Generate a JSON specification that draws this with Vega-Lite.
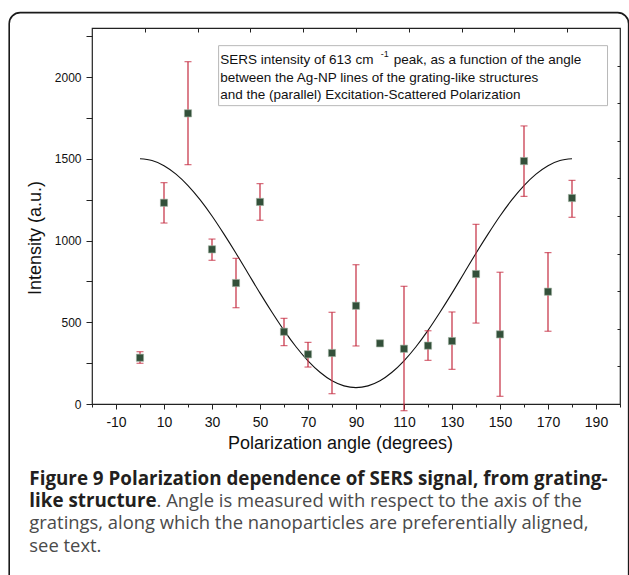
{
  "$schema": "https://vega.github.io/schema/vega-lite/v6.json",
  "width": 528,
  "height": 376,
  "autosize": "none",
  "padding": {"left": 92, "top": 28, "right": 9, "bottom": 171},
  "background": "white",
  "datasets": {
    "pts": [
      {"angle": 0, "intensity": 283, "lo": 249, "hi": 320},
      {"angle": 10, "intensity": 1231, "lo": 1107, "hi": 1354},
      {"angle": 20, "intensity": 1778, "lo": 1464, "hi": 2094},
      {"angle": 30, "intensity": 946, "lo": 879, "hi": 1009},
      {"angle": 40, "intensity": 740, "lo": 589, "hi": 891},
      {"angle": 50, "intensity": 1236, "lo": 1124, "hi": 1348},
      {"angle": 60, "intensity": 442, "lo": 357, "hi": 524},
      {"angle": 70, "intensity": 304, "lo": 226, "hi": 377},
      {"angle": 80, "intensity": 312, "lo": 63, "hi": 561},
      {"angle": 90, "intensity": 601, "lo": 355, "hi": 852},
      {"angle": 100, "intensity": 371, "lo": 358, "hi": 386},
      {"angle": 110, "intensity": 338, "lo": -41, "hi": 720},
      {"angle": 120, "intensity": 357, "lo": 267, "hi": 448},
      {"angle": 130, "intensity": 385, "lo": 212, "hi": 563},
      {"angle": 140, "intensity": 795, "lo": 495, "hi": 1099},
      {"angle": 150, "intensity": 426, "lo": 47, "hi": 806},
      {"angle": 160, "intensity": 1486, "lo": 1270, "hi": 1701},
      {"angle": 170, "intensity": 687, "lo": 445, "hi": 926},
      {"angle": 180, "intensity": 1260, "lo": 1142, "hi": 1368}
    ],
    "fit": [
      {"angle": 0, "fit": 1500}, {"angle": 5, "fit": 1489}, {"angle": 10, "fit": 1458},
      {"angle": 15, "fit": 1406}, {"angle": 20, "fit": 1336}, {"angle": 25, "fit": 1250},
      {"angle": 30, "fit": 1150}, {"angle": 35, "fit": 1039}, {"angle": 40, "fit": 922},
      {"angle": 45, "fit": 800}, {"angle": 50, "fit": 678}, {"angle": 55, "fit": 561},
      {"angle": 60, "fit": 450}, {"angle": 65, "fit": 350}, {"angle": 70, "fit": 264},
      {"angle": 75, "fit": 194}, {"angle": 80, "fit": 142}, {"angle": 85, "fit": 111},
      {"angle": 90, "fit": 100}, {"angle": 95, "fit": 111}, {"angle": 100, "fit": 142},
      {"angle": 105, "fit": 194}, {"angle": 110, "fit": 264}, {"angle": 115, "fit": 350},
      {"angle": 120, "fit": 450}, {"angle": 125, "fit": 561}, {"angle": 130, "fit": 678},
      {"angle": 135, "fit": 800}, {"angle": 140, "fit": 922}, {"angle": 145, "fit": 1039},
      {"angle": 150, "fit": 1150}, {"angle": 155, "fit": 1250}, {"angle": 160, "fit": 1336},
      {"angle": 165, "fit": 1406}, {"angle": 170, "fit": 1458}, {"angle": 175, "fit": 1489},
      {"angle": 180, "fit": 1500}
    ],
    "one": [{}]
  },
  "resolve": {"axis": {"x": "independent", "y": "independent"}},
  "layer": [
    {
      "data": {"name": "one"},
      "mark": {"type": "rect", "fill": "white", "fillOpacity": 0, "stroke": "#1a1a1a", "strokeWidth": 1.6, "cornerRadius": 11},
      "encoding": {
        "x": {"datum": -54.5, "type": "quantitative", "axis": null},
        "x2": {"datum": 203.6},
        "y": {"datum": 2394, "type": "quantitative", "axis": null},
        "y2": {"datum": -1200}
      }
    },
    {
      "data": {"name": "fit"},
      "mark": {"type": "line", "color": "#111", "strokeWidth": 1.1, "interpolate": "monotone"},
      "encoding": {
        "x": {"field": "angle", "type": "quantitative", "scale": {"domain": [-20, 200], "nice": false, "zero": false},
          "axis": {"orient": "top", "values": [2, 24, 46, 68, 90, 112, 134, 156, 178], "labels": false, "tickSize": 4, "offset": -4, "domain": false, "title": null, "grid": false}},
        "y": {"field": "fit", "type": "quantitative", "scale": {"domain": [0, 2300], "nice": false, "zero": false},
          "axis": {"orient": "right", "values": [230, 460, 690, 920, 1150, 1380, 1610, 1840, 2070], "labels": false, "tickSize": 3, "offset": -3, "domain": false, "title": null, "grid": false}}
      }
    },
    {
      "data": {"name": "pts"},
      "mark": {"type": "rule", "color": "#c42a3f", "strokeWidth": 1.2},
      "encoding": {
        "x": {"field": "angle", "type": "quantitative", "axis": null},
        "y": {"field": "lo", "type": "quantitative", "axis": null},
        "y2": {"field": "hi"}
      }
    },
    {
      "data": {"name": "pts"},
      "mark": {"type": "tick", "orient": "horizontal", "color": "#c42a3f", "size": 7, "thickness": 1.2},
      "encoding": {
        "x": {"field": "angle", "type": "quantitative", "axis": null},
        "y": {"field": "lo", "type": "quantitative", "axis": null}
      }
    },
    {
      "data": {"name": "pts"},
      "mark": {"type": "tick", "orient": "horizontal", "color": "#c42a3f", "size": 7, "thickness": 1.2},
      "encoding": {
        "x": {"field": "angle", "type": "quantitative", "axis": null},
        "y": {"field": "hi", "type": "quantitative", "axis": null}
      }
    },
    {
      "data": {"name": "pts"},
      "mark": {"type": "square", "size": 52, "fill": "#33503a", "filled": true, "opacity": 1, "stroke": "#9fb09f", "strokeWidth": 0.6},
      "encoding": {
        "x": {"field": "angle", "type": "quantitative",
          "axis": {"orient": "bottom", "values": [-20, -10, 0, 10, 20, 30, 40, 50, 60, 70, 80, 90, 100, 110, 120, 130, 140, 150, 160, 170, 180, 190, 200],
            "labelExpr": "(datum.value + 10) % 20 == 0 ? '' + datum.value : ''",
            "tickSize": {"condition": {"test": "(datum.value + 10) % 20 == 0", "value": 5}, "value": 3},
            "labelFontSize": 14, "labelPadding": 6, "labelFlush": false, "labelOverlap": false,
            "domain": false, "grid": false,
            "title": "Polarization angle (degrees)", "titleFontSize": 18, "titleFontWeight": "normal",
            "titleX": 248, "titleY": 44, "titleBaseline": "alphabetic", "titleAlign": "center"}},
        "y": {"field": "intensity", "type": "quantitative",
          "axis": {"orient": "left", "values": [0, 250, 500, 750, 1000, 1250, 1500, 1750, 2000, 2250],
            "labelExpr": "datum.value % 500 == 0 ? '' + datum.value : ''",
            "tickSize": 6, "labelFontSize": 12, "labelPadding": 5, "labelOverlap": false, "labelFlush": false,
            "domain": false, "grid": false,
            "title": "Intensity (a.u.)", "titleFontSize": 18, "titleFontWeight": "normal",
            "titleAngle": 270, "titleX": -52, "titleY": 209.5, "titleBaseline": "alphabetic", "titleAlign": "center"}}
      }
    },
    {
      "data": {"name": "one"},
      "mark": {"type": "rect", "fill": "white", "stroke": "#b8b8b8", "strokeWidth": 1},
      "encoding": {
        "x": {"datum": 32.75, "type": "quantitative", "axis": null},
        "x2": {"datum": 194.8},
        "y": {"datum": 2192, "type": "quantitative", "axis": null},
        "y2": {"datum": 1825}
      }
    },
    {
      "data": {"name": "one"},
      "mark": {"type": "text", "text": "SERS intensity of 613 cm", "font": "Liberation Sans", "fontSize": 13.5, "align": "left", "baseline": "alphabetic", "color": "#111"},
      "encoding": {
        "x": {"datum": 33.46, "type": "quantitative", "axis": null},
        "y": {"datum": 2078, "type": "quantitative", "axis": null}
      }
    },
    {
      "data": {"name": "one"},
      "mark": {"type": "text", "text": "-1", "font": "Liberation Sans", "fontSize": 9, "align": "left", "baseline": "alphabetic", "color": "#111"},
      "encoding": {
        "x": {"datum": 100.3, "type": "quantitative", "axis": null},
        "y": {"datum": 2122, "type": "quantitative", "axis": null}
      }
    },
    {
      "data": {"name": "one"},
      "mark": {"type": "text", "text": "peak, as a function of the angle", "font": "Liberation Sans", "fontSize": 13.5, "align": "left", "baseline": "alphabetic", "color": "#111"},
      "encoding": {
        "x": {"datum": 105.7, "type": "quantitative", "axis": null},
        "y": {"datum": 2078, "type": "quantitative", "axis": null}
      }
    },
    {
      "data": {"name": "one"},
      "mark": {"type": "text", "text": "between the Ag-NP lines of the grating-like structures", "font": "Liberation Sans", "fontSize": 13.5, "align": "left", "baseline": "alphabetic", "color": "#111"},
      "encoding": {
        "x": {"datum": 33.46, "type": "quantitative", "axis": null},
        "y": {"datum": 1971, "type": "quantitative", "axis": null}
      }
    },
    {
      "data": {"name": "one"},
      "mark": {"type": "text", "text": "and the (parallel) Excitation-Scattered Polarization", "font": "Liberation Sans", "fontSize": 13.5, "align": "left", "baseline": "alphabetic", "color": "#111"},
      "encoding": {
        "x": {"datum": 33.46, "type": "quantitative", "axis": null},
        "y": {"datum": 1864, "type": "quantitative", "axis": null}
      }
    },
    {
      "data": {"name": "one"},
      "mark": {"type": "text", "text": "Figure 9 Polarization dependence of SERS signal, from grating-", "font": "Open Sans", "fontSize": 18.8, "fontWeight": "bold", "align": "left", "baseline": "alphabetic", "color": "#231f20"},
      "encoding": {
        "x": {"datum": -46.1, "type": "quantitative", "axis": null},
        "y": {"datum": -495.5, "type": "quantitative", "axis": null}
      }
    },
    {
      "data": {"name": "one"},
      "mark": {"type": "text", "text": "like structure", "font": "Open Sans", "fontSize": 18.8, "fontWeight": "bold", "align": "left", "baseline": "alphabetic", "color": "#231f20"},
      "encoding": {
        "x": {"datum": -46.1, "type": "quantitative", "axis": null},
        "y": {"datum": -628.2, "type": "quantitative", "axis": null}
      }
    },
    {
      "data": {"name": "one"},
      "mark": {"type": "text", "text": ". Angle is measured with respect to the axis of the", "font": "Open Sans", "fontSize": 18.4, "align": "left", "baseline": "alphabetic", "color": "#4a4a4a"},
      "encoding": {
        "x": {"datum": 6.9, "type": "quantitative", "axis": null},
        "y": {"datum": -628.2, "type": "quantitative", "axis": null}
      }
    },
    {
      "data": {"name": "one"},
      "mark": {"type": "text", "text": "gratings, along which the nanoparticles are preferentially aligned,", "font": "Open Sans", "fontSize": 18.4, "align": "left", "baseline": "alphabetic", "color": "#4a4a4a"},
      "encoding": {
        "x": {"datum": -46.1, "type": "quantitative", "axis": null},
        "y": {"datum": -764.6, "type": "quantitative", "axis": null}
      }
    },
    {
      "data": {"name": "one"},
      "mark": {"type": "text", "text": "see text.", "font": "Open Sans", "fontSize": 18.4, "align": "left", "baseline": "alphabetic", "color": "#4a4a4a"},
      "encoding": {
        "x": {"datum": -46.1, "type": "quantitative", "axis": null},
        "y": {"datum": -903.5, "type": "quantitative", "axis": null}
      }
    }
  ],
  "config": {
    "view": {"stroke": "#222", "strokeWidth": 1.2},
    "font": "Liberation Sans",
    "axis": {"labelFont": "Liberation Sans", "titleFont": "Liberation Sans", "tickColor": "#222", "labelColor": "#111", "titleColor": "#111", "tickWidth": 1}
  }
}
